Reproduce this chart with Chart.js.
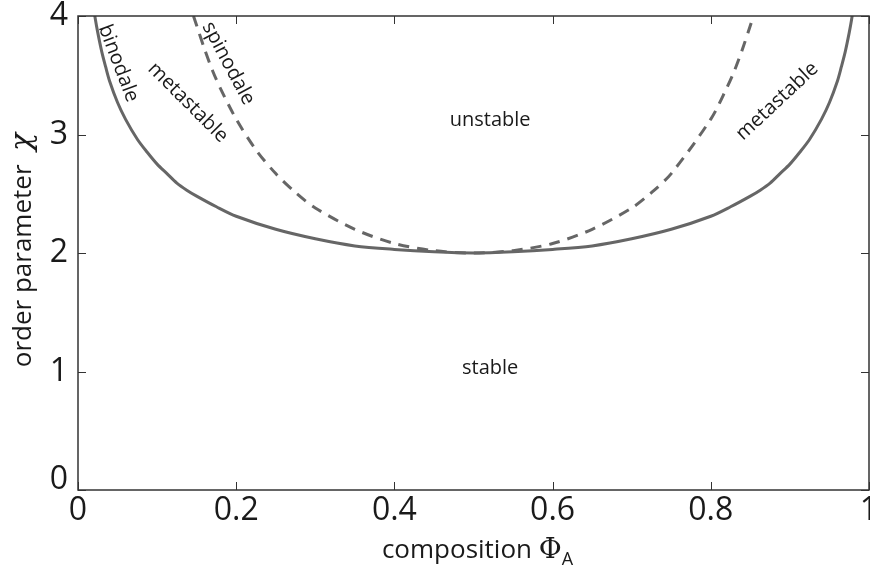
<!DOCTYPE html>
<html>
<head>
<meta charset="utf-8">
<script src="https://cdn.jsdelivr.net/npm/chart.js@4/dist/chart.umd.min.js"></script>
<style>
  html,body{margin:0;padding:0;background:#fff;}
  #wrap{width:870px;height:574px;position:relative;}
</style>
</head>
<body>
<div id="wrap"><canvas id="c" width="870" height="574"></canvas></div>
<script>
// values
const binodalX = [0.018,0.022,0.025,0.030,0.035,0.040,0.050,0.060,0.075,0.0875,0.10,0.1125,0.125,0.1375,0.15,0.175,0.20,0.25,0.30,0.35,0.40,0.45,0.50,
                  0.55,0.60,0.65,0.70,0.75,0.80,0.825,0.85,0.8625,0.875,0.8875,0.90,0.9125,0.925,0.94,0.95,0.96,0.965,0.97,0.975,0.978,0.982];
const binodalY = [4.15,3.97,3.86,3.70,3.57,3.45,3.27,3.13,2.96,2.85,2.75,2.67,2.59,2.53,2.48,2.39,2.31,2.20,2.12,2.06,2.03,2.01,2.00,
                  2.01,2.03,2.06,2.12,2.20,2.31,2.39,2.48,2.53,2.59,2.67,2.75,2.85,2.96,3.13,3.27,3.45,3.57,3.70,3.86,3.97,4.15];
const spinodalX = [0.146,0.15,0.16,0.17,0.18,0.20,0.225,0.25,0.275,0.30,0.35,0.40,0.45,0.50,
                   0.55,0.60,0.65,0.70,0.725,0.75,0.80,0.82,0.83,0.84,0.85,0.854];
const spinodalY = [4.00,3.92,3.72,3.54,3.39,3.13,2.87,2.67,2.51,2.38,2.20,2.08,2.02,2.00,
                   2.02,2.08,2.20,2.38,2.51,2.67,3.13,3.39,3.54,3.72,3.92,4.00];
const xTicks = [0,0.2,0.4,0.6,0.8,1];
const yTicks = [0,1,2,3,4];

// region labels: [text, x, y, angle in degrees]
const regionLabels = [
  ["binodale", 0.051, 3.60, 69],
  ["metastable", 0.139, 3.27, 45],
  ["spinodale", 0.190, 3.60, 62],
  ["metastable", 0.884, 3.28, -43],
  ["unstable", 0.521, 3.12, 0],
  ["stable", 0.521, 1.03, 0]
];

const lineColor = "#666666";
const axisColor = "#333333";
const font = "'Open Sans', 'DejaVu Sans', sans-serif";

function pts(xs, ys){ return xs.map((x,i)=>({x:x, y:ys[i]})); }

const decor = {
  id: "decor",
  afterDraw(chart){
    const ctx = chart.ctx;
    const a = chart.chartArea;
    const sx = chart.scales.x, sy = chart.scales.y;
    ctx.save();
    // box
    ctx.strokeStyle = axisColor;
    ctx.lineWidth = 1.5;
    ctx.strokeRect(a.left, a.top, a.right - a.left, a.bottom - a.top);
    // inward ticks on all sides
    ctx.lineWidth = 1;
    const tl = 8;
    ctx.beginPath();
    xTicks.forEach(v=>{
      const px = Math.round(sx.getPixelForValue(v)) + 0.5;
      ctx.moveTo(px, a.bottom); ctx.lineTo(px, a.bottom - tl);
      ctx.moveTo(px, a.top); ctx.lineTo(px, a.top + tl);
    });
    yTicks.forEach(v=>{
      const py = Math.round(sy.getPixelForValue(v)) + 0.5;
      ctx.moveTo(a.left, py); ctx.lineTo(a.left + tl, py);
      ctx.moveTo(a.right, py); ctx.lineTo(a.right - tl, py);
    });
    ctx.stroke();

    // tick labels
    ctx.fillStyle = "#1a1a1a";
    ctx.font = "32px " + font;
    ctx.textAlign = "center";
    ctx.textBaseline = "top";
    xTicks.forEach(v=>{
      ctx.fillText(String(v), sx.getPixelForValue(v), a.bottom + 5);
    });
    ctx.textAlign = "right";
    ctx.textBaseline = "middle";
    yTicks.forEach(v=>{
      const py = sy.getPixelForValue(v) - (v === 0 ? 10 : 0);
      ctx.fillText(String(v), a.left - 10, py);
    });

    // region labels
    ctx.font = "20px " + font;
    ctx.textAlign = "center";
    ctx.textBaseline = "middle";
    regionLabels.forEach(([t, x, y, ang])=>{
      ctx.save();
      ctx.translate(sx.getPixelForValue(x), sy.getPixelForValue(y));
      ctx.rotate(ang * Math.PI / 180);
      ctx.fillText(t, 0, 0);
      ctx.restore();
    });

    // x axis title with subscript
    const cx = (a.left + a.right) / 2;
    ctx.textAlign = "left";
    ctx.textBaseline = "alphabetic";
    const main = "composition ";
    const phi = "\u03A6";
    ctx.font = "26px " + font;
    const w1 = ctx.measureText(main).width;
    ctx.font = "28px 'DejaVu Serif', serif";
    const w2 = ctx.measureText(phi).width;
    ctx.font = "18px " + font;
    const w3 = ctx.measureText("A").width;
    let x0 = cx - (w1 + w2 + w3) / 2 + 4;
    const base = 558;
    ctx.font = "26px " + font;
    ctx.fillText(main, x0, base);
    ctx.font = "28px 'DejaVu Serif', serif";
    ctx.fillText(phi, x0 + w1, base);
    ctx.font = "18px " + font;
    ctx.fillText("A", x0 + w1 + w2, base + 7);

    // y axis title
    ctx.save();
    ctx.translate(31, 250);
    ctx.rotate(-Math.PI / 2);
    ctx.font = "26px " + font;
    const yt = "order parameter  ";
    const wy1 = ctx.measureText(yt).width;
    ctx.font = "italic 30px 'DejaVu Serif', serif";
    const wy2 = ctx.measureText("\u03C7").width;
    ctx.textAlign = "left";
    ctx.font = "26px " + font;
    ctx.fillText(yt, -(wy1 + wy2) / 2, 0);
    ctx.font = "italic 30px 'DejaVu Serif', serif";
    ctx.fillText("\u03C7", -(wy1 + wy2) / 2 + wy1, 0);
    ctx.restore();

    ctx.restore();
  }
};

new Chart(document.getElementById("c"), {
  type: "line",
  data: {
    datasets: [
      {
        label: "binodale",
        data: pts(binodalX, binodalY),
        borderColor: lineColor,
        borderWidth: 3,
        pointRadius: 0,
        tension: 0.3,
        fill: false
      },
      {
        label: "spinodale",
        data: pts(spinodalX, spinodalY),
        borderColor: lineColor,
        borderWidth: 3,
        borderDash: [11, 8],
        pointRadius: 0,
        tension: 0.3,
        fill: false
      }
    ]
  },
  options: {
    responsive: false,
    animation: false,
    layout: { padding: { top: 16, right: 1, left: 0, bottom: 0 } },
    plugins: { legend: { display: false }, tooltip: { enabled: false } },
    scales: {
      x: {
        type: "linear", min: 0, max: 1,
        grid: { display: false },
        border: { display: false },
        ticks: { display: false },
        afterFit(s){ s.height = 84; }
      },
      y: {
        type: "linear", min: 0, max: 4,
        grid: { display: false },
        border: { display: false },
        ticks: { display: false },
        afterFit(s){ s.width = 78; }
      }
    }
  },
  plugins: [decor]
});
</script>
</body>
</html>
